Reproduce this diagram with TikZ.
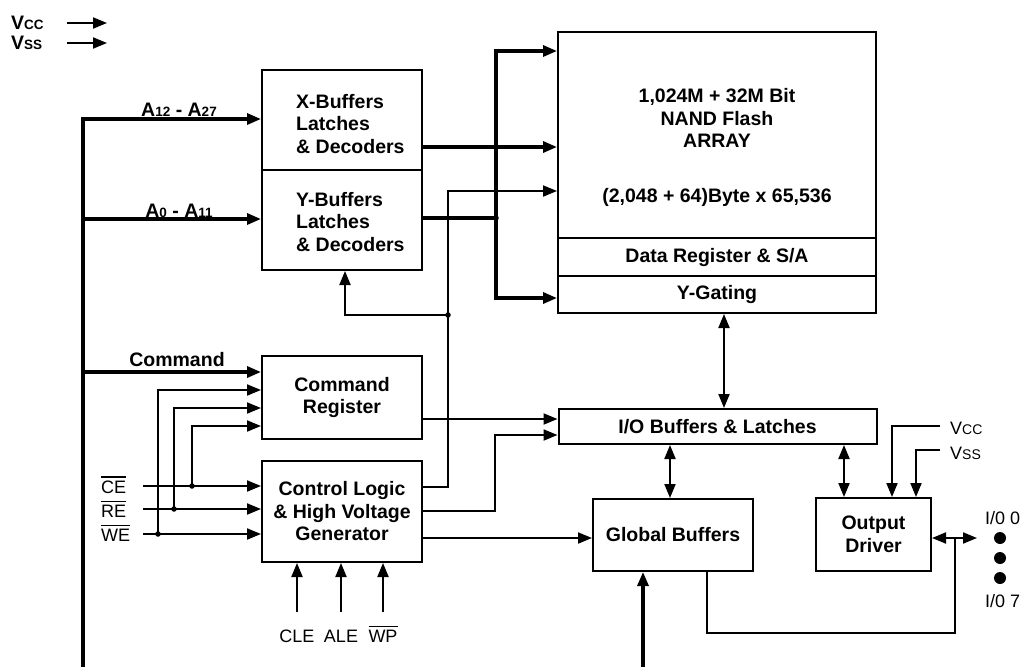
\documentclass[tikz,border=0pt]{standalone}
\usepackage{fontspec}
\setmainfont{Liberation Sans}
\usetikzlibrary{arrows.meta,calc}
\newcommand\ovl[1]{{\setbox0\hbox{#1}\rlap{\rule[\dimexpr\ht0+2.5pt\relax]{\wd0}{1.6pt}}\box0}}
\newcommand\smc[1]{{\fontsize{13.5}{13.5}\selectfont #1}}
\newcommand\smr[1]{{\fontsize{14}{14}\selectfont #1}}
\begin{document}
\begin{tikzpicture}[x=1pt,y=-1pt,
  >={Triangle[length=14pt,width=11pt]},
  blk/.style={draw,line width=2pt,inner sep=0pt,minimum width=#1},
  bf/.style={font=\fontsize{19.5}{22.5}\selectfont\bfseries,inner sep=0pt},
  rg/.style={font=\fontsize{18}{20}\selectfont,inner sep=0pt},
  wire/.style={line width=2pt},
  bus/.style={line width=3.2pt},
  jdot/.style={circle,fill,inner sep=0pt,minimum size=5.5pt},
  iodot/.style={circle,fill,inner sep=0pt,minimum size=12pt}
]
\useasboundingbox (0,0) rectangle (1023,667);

% blocks
\node[blk=160pt,minimum height=100pt] (xbuf) at (342,120) {};
\node[blk=160pt,minimum height=100pt] (ybuf) at (342,220) {};
\node[bf,anchor=west,align=left] (xbt) at (296,124) {X-Buffers\\Latches\\\& Decoders};
\node[bf,anchor=west,align=left] (ybt) at (296,222) {Y-Buffers\\Latches\\\& Decoders};

\node[blk=318pt,minimum height=206pt] (array) at (717,135) {};
\node[bf,align=center] (arrt) at (717,118) {1,024M + 32M Bit\\NAND Flash\\ARRAY};
\node[bf] (arrt2) at (717,197) {(2,048 + 64)Byte x 65,536};
\node[blk=318pt,minimum height=38pt,bf] (dreg) at (717,257) {Data Register \& S/A};
\node[blk=318pt,minimum height=37pt,bf] (ygate) at (717,294.5) {Y-Gating};

\node[blk=160pt,minimum height=83pt,bf,align=center] (cmdreg) at (342,397.5) {Command\\Register};
\node[blk=160pt,minimum height=101pt,bf,align=center] (ctrl) at (342,511.5) {Control Logic\\\& High Voltage\\Generator};
\node[blk=318pt,minimum height=35pt,bf] (iobuf) at (717.5,426.5) {I/O Buffers \& Latches};
\node[blk=160pt,minimum height=72pt,bf] (glob) at (673,535) {Global Buffers};
\node[blk=115pt,minimum height=73pt,bf,align=center] (outdrv) at (873.5,534.5) {Output\\Driver};

% top-left supply
\node[bf,anchor=west] (vccl) at (11,23) {V\smc{CC}};
\node[bf,anchor=west] (vssl) at (11,43) {V\smc{SS}};
\coordinate (vcca) at (67,23); \coordinate (vccb) at (107,23);
\coordinate (vssa) at (67,43); \coordinate (vssb) at (107,43);
\draw[wire,->] (vcca) -- (vccb);
\draw[wire,->] (vssa) -- (vssb);

% address / command bus
\coordinate (bt) at (83,119);
\coordinate (bb) at (83,667);
\coordinate (ba0) at (83,219);
\coordinate (bcmd) at (83,372);
\draw[bus,->] (bb) -- (bt) -- (bt -| xbuf.west);
\draw[bus,->] (ba0) -- (ba0 -| ybuf.west);
\draw[bus,->] (bcmd) -- (bcmd -| cmdreg.west);
\node[bf] (a12l) at (179,110) {A\smc{12} - A\smc{27}};
\node[bf] (a0l) at (179,211) {A\smc{0} - A\smc{11}};
\node[bf] (cmdl) at (177,360) {Command};

% X / Y buffer outputs
\coordinate (xo) at (422,147);
\draw[bus,->] (xo) -- (xo -| array.west);
\coordinate (yj) at (496,218);
\draw[bus] (ybuf.east |- yj) -- (yj);
\draw[bus,->] (yj) |- (array.west |- 0,51);
\draw[bus,->] (yj) |- (ygate.west |- 0,298);
\node[jdot] at (yj) {};

% control logic first output
\coordinate (cj) at (448,487);
\coordinate (tj) at (448,315);
\draw[wire,->] (ctrl.east |- cj) -- (cj) |- (array.west |- 0,191);
\node[jdot] at (tj) {};
\draw[wire,->] (tj) -| ([xshift=3pt]ybuf.south);

% command register output
\draw[wire,->] (cmdreg.east |- 0,419) -- (iobuf.west |- 0,419);
% control logic second / third output
\coordinate (c2) at (495,511);
\draw[wire,->] (ctrl.east |- c2) -- (c2) |- (iobuf.west |- 0,435);
\draw[wire,->] (ctrl.east |- 0,538) -- (glob.west |- 0,538);

% bidirectional links
\draw[wire,<->] (ygate.south -| 724,0) -- (iobuf.north -| 724,0);
\draw[wire,<->] (iobuf.south -| 670,0) -- (glob.north -| 670,0);
\draw[wire,<->] (iobuf.south -| 844,0) -- (outdrv.north -| 844,0);

% output driver supply
\coordinate (vcr) at (940,426);
\coordinate (vsr) at (940,450);
\draw[wire,->] (vcr) -| (outdrv.north -| 892,0);
\draw[wire,->] (vsr) -| (outdrv.north -| 916,0);
\node[rg,anchor=base west] (vccr) at (950,434) {V\smr{CC}};
\node[rg,anchor=base west] (vssr) at (950,459) {V\smr{SS}};

% I/O pins
\coordinate (ioe) at (977,538);
\coordinate (gj) at (955,538);
\coordinate (gb) at (955,633);
\draw[wire,<->] (outdrv.east |- ioe) -- (ioe);
\draw[wire] (glob.south -| 707,0) |- (gb) -- (gj);
\node[rg,anchor=base west] (io0) at (985,524) {I/0 0};
\node[rg,anchor=base west] (io7) at (985,607) {I/0 7};
\node[iodot] (d1) at (1000,538) {};
\node[iodot] (d2) at (1000,558) {};
\node[iodot] (d3) at (1000,578) {};

% bottom input to global buffers
\coordinate (gbot) at (643,667);
\draw[bus,->] (gbot) -- (glob.south -| gbot);

% CLE ALE WP
\coordinate (cle) at (297,612);
\coordinate (ale) at (341,612);
\coordinate (wp) at (383,612);
\draw[wire,->] (cle) -- (ctrl.south -| cle);
\draw[wire,->] (ale) -- (ctrl.south -| ale);
\draw[wire,->] (wp) -- (ctrl.south -| wp);
\node[rg,anchor=base] (clel) at (297,642) {CLE};
\node[rg,anchor=base] (alel) at (341,642) {ALE};
\node[rg,anchor=base] (wpl) at (383,642) {\ovl{WP}};

% CE RE WE
\coordinate (ce) at (143,486);
\coordinate (re) at (143,509);
\coordinate (we) at (143,534);
\coordinate (ceJ) at (192,486);
\coordinate (reJ) at (174,509);
\coordinate (weJ) at (158,534);
\draw[wire,->] (ce) -- (ctrl.west |- ce);
\draw[wire,->] (re) -- (ctrl.west |- re);
\draw[wire,->] (we) -- (ctrl.west |- we);
\draw[wire,->] (ceJ) |- (cmdreg.west |- 0,426);
\draw[wire,->] (reJ) |- (cmdreg.west |- 0,408);
\draw[wire,->] (weJ) |- (cmdreg.west |- 0,390);
\node[jdot] at (ceJ) {};
\node[jdot] at (reJ) {};
\node[jdot] at (weJ) {};
\node[rg,anchor=base west] (cel) at (101,493) {\ovl{CE}};
\node[rg,anchor=base west] (rel) at (101,517) {\ovl{RE}};
\node[rg,anchor=base west] (wel) at (101,541) {\ovl{WE}};
\end{tikzpicture}
\end{document}
